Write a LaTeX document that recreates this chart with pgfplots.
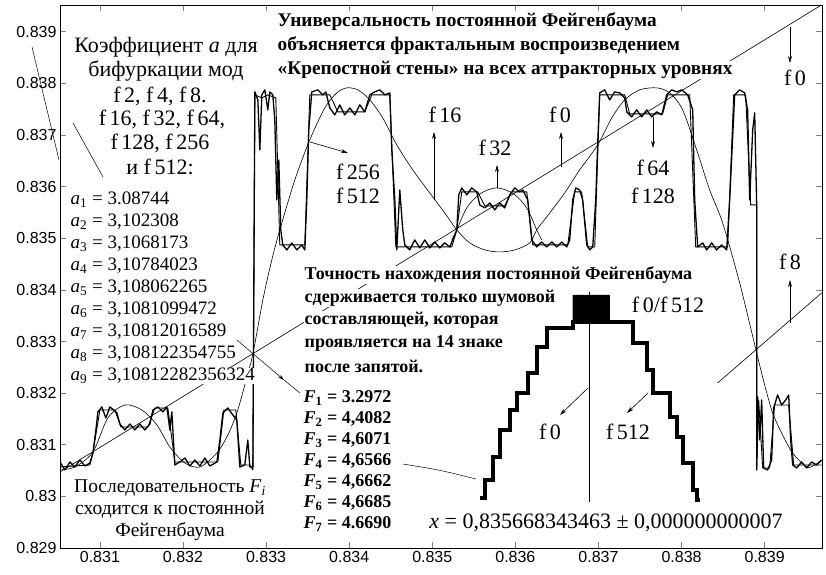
\documentclass[border=0pt]{standalone}
\usepackage{fontspec}
\setmainfont{Liberation Serif}
\setsansfont{Liberation Sans}
\usepackage{pgfplots}
\pgfplotsset{compat=1.18}
\usetikzlibrary{arrows.meta}
\newcommand\fs[2]{\fontsize{#1}{#2}\selectfont}
\begin{document}
\begin{tikzpicture}
\begin{axis}[
  at={(60pt,-548pt)}, anchor=south west,
  scale only axis, width=762pt, height=543pt,
  xmin=0.83052, xmax=0.83969, ymin=0.829, ymax=0.83952,
  xtick={0.831,0.832,0.833,0.834,0.835,0.836,0.837,0.838,0.839},
  xticklabels={0.831,0.832,0.833,0.834,0.835,0.836,0.837,0.838,0.839},
  ytick={0.829,0.830,0.831,0.832,0.833,0.834,0.835,0.836,0.837,0.838,0.839},
  yticklabels={0.829,0.83,0.831,0.832,0.833,0.834,0.835,0.836,0.837,0.838,0.839},
  scaled ticks=false,
  tick align=inside, major tick length=6pt,
  tick style={line width=0.7pt},
  ticklabel style={font=\sffamily\fs{16}{16}},
  /pgf/number format/assume math mode=true,
  axis line style={line width=0.8pt},
]
% f0 : identity line
\addplot[black, line width=0.6pt] coordinates {(0.830519,0.830473)(0.839686,0.839523)};
% large smooth iterate curve
\addplot[black, line width=0.6pt, smooth] coordinates {
(0.830519,0.830512)(0.830699,0.83057)(0.830916,0.83086)(0.831096,0.831519)(0.831301,0.831771)(0.831505,0.831674)(0.831686,0.831384)(0.831842,0.830957)(0.832023,0.830647)(0.832203,0.83057)
(0.832408,0.830841)(0.83254,0.83119)(0.832648,0.831616)(0.832744,0.832159)(0.832841,0.83276)(0.832961,0.833806)(0.833069,0.834581)(0.833165,0.835163)(0.833346,0.836132)(0.833526,0.836907)(0.833707,0.837527)(0.833851,0.837818)(0.833971,0.837915)(0.834104,0.837876)(0.834248,0.837682)(0.834404,0.837333)(0.834573,0.83681)(0.834765,0.836326)(0.83497,0.83588)(0.83515,0.835492)(0.835295,0.835163)(0.835451,0.834911)(0.835632,0.834775)(0.835812,0.834736)(0.835992,0.834775)(0.836173,0.834911)(0.836257,0.835163)(0.836414,0.835492)(0.836594,0.83588)(0.836774,0.836326)(0.836991,0.83681)(0.83716,0.837333)(0.837316,0.837682)(0.837496,0.837876)(0.837701,0.837915)(0.837857,0.837818)(0.838013,0.837488)(0.838182,0.836713)(0.838338,0.835938)(0.838494,0.835299)(0.838699,0.834136)(0.838904,0.832779)(0.839,0.832159)(0.839096,0.831616)(0.839216,0.83119)(0.839337,0.830841)(0.839505,0.83057)(0.839601,0.830609)(0.839686,0.830705)};
% f32 arc
\addplot[black, line width=0.6pt, smooth] coordinates {(0.835235,0.834969)(0.835295,0.835163)(0.835415,0.835589)(0.835571,0.83586)(0.835776,0.835977)(0.83598,0.83586)(0.836137,0.835589)(0.836257,0.835163)(0.836317,0.834969)};
% f8 chord
\addplot[black, line width=0.6pt] coordinates {(0.838434,0.832198)(0.839686,0.833942)};
% fortress wall, fine iterate
\addplot[black, line width=1.3pt, line join=round] coordinates {
(0.830519,0.830667)(0.830579,0.830512)(0.830639,0.830667)(0.830699,0.83057)(0.830759,0.830705)(0.83082,0.830589)(0.83088,0.830647)(0.830916,0.830841)(0.830952,0.831287)(0.830976,0.831636)(0.831024,0.831733)(0.831072,0.831519)(0.83112,0.831733)(0.831168,0.831674)(0.831205,0.831616)(0.831241,0.831403)(0.831301,0.831287)(0.831361,0.831403)(0.831421,0.831287)(0.831481,0.831403)(0.831541,0.831287)(0.831602,0.831403)(0.831638,0.831674)(0.831698,0.831733)(0.831758,0.831636)(0.831806,0.831733)(0.831842,0.831287)(0.831866,0.831636)(0.831902,0.830609)(0.831962,0.830667)(0.832023,0.830744)(0.832083,0.830589)(0.832143,0.830705)(0.832203,0.830589)(0.832263,0.830744)(0.832323,0.830589)(0.832408,0.830667)(0.832444,0.831093)(0.83248,0.831616)(0.83254,0.831713)(0.8326,0.831578)(0.832648,0.831481)(0.832684,0.83057)(0.832744,0.830609)(0.83278,0.831093)(0.832805,0.83057)(0.832841,0.83057)(0.832865,0.837837)
(0.832901,0.837682)(0.832925,0.836713)(0.832949,0.837779)(0.832985,0.837876)(0.833021,0.837488)(0.833045,0.837837)(0.833081,0.837779)(0.833105,0.837295)(0.833129,0.835744)(0.833153,0.836519)(0.833177,0.835163)(0.833201,0.834872)(0.83325,0.834775)(0.83331,0.834911)(0.83337,0.834775)(0.83343,0.834872)(0.833466,0.834775)(0.83349,0.835744)(0.833514,0.837101)(0.83355,0.837837)(0.833623,0.837876)(0.833683,0.837779)(0.833719,0.837837)(0.833767,0.837527)(0.833827,0.837391)(0.833887,0.837585)(0.833947,0.837391)(0.834008,0.837527)(0.834068,0.837391)(0.834128,0.837585)(0.834188,0.83745)(0.834248,0.837779)(0.834308,0.837837)(0.834368,0.837876)(0.834429,0.837779)(0.834489,0.837818)(0.834513,0.836713)(0.834549,0.835744)(0.834573,0.834775)(0.834609,0.835938)(0.834645,0.835163)(0.834669,0.834872)(0.834729,0.834775)(0.834789,0.834969)(0.83485,0.834814)(0.83491,0.834969)(0.83497,0.834814)(0.83503,0.83493)(0.83509,0.834814)(0.83515,0.834911)(0.835211,0.834833)(0.835271,0.835066)(0.835295,0.835163)(0.835319,0.835841)(0.835355,0.835977)(0.835415,0.835841)(0.835475,0.835977)(0.835535,0.835899)(0.835571,0.835647)(0.835632,0.835589)(0.835692,0.835686)(0.835752,0.83555)(0.835812,0.835686)(0.835872,0.835589)(0.835932,0.835841)(0.835992,0.835977)(0.836053,0.835899)(0.836089,0.835938)(0.836149,0.835744)(0.836197,0.834969)(0.836257,0.834833)(0.836317,0.83493)(0.836377,0.834833)(0.836438,0.83493)(0.836498,0.834833)(0.836558,0.83493)(0.836618,0.834833)(0.836654,0.834969)(0.83669,0.835744)(0.836726,0.835977)(0.836774,0.835938)(0.83681,0.835744)(0.836859,0.834872)(0.836895,0.834775)(0.836931,0.834833)(0.836967,0.835744)(0.836991,0.836849)(0.837015,0.837818)(0.837075,0.837876)(0.837135,0.837682)(0.837195,0.837837)(0.837256,0.837818)(0.837316,0.837721)(0.83734,0.83745)(0.8374,0.837353)(0.83746,0.837488)(0.83752,0.837353)(0.83758,0.837488)(0.837641,0.837353)(0.837701,0.83745)(0.837761,0.837391)(0.837821,0.837779)(0.837881,0.837876)(0.837941,0.837837)(0.838001,0.837876)(0.838074,0.837779)(0.838134,0.837488)(0.838158,0.835744)(0.838194,0.834833)(0.838254,0.834911)(0.838302,0.834775)(0.838362,0.834911)(0.838422,0.834775)(0.838482,0.834872)(0.838543,0.834775)(0.838579,0.835744)(0.838639,0.837779)(0.838699,0.837876)(0.838759,0.837818)(0.838795,0.837488)(0.83882,0.835744)(0.838856,0.837101)(0.83888,0.83743)(0.838904,0.835647)(0.838904,0.830512)
(0.838916,0.831926)(0.83894,0.831093)(0.838964,0.831868)(0.838988,0.83055)(0.839036,0.830512)(0.839084,0.830705)(0.839108,0.831713)(0.839156,0.831965)(0.839204,0.831771)(0.839253,0.831868)(0.839289,0.831965)(0.839313,0.831093)(0.839337,0.830609)(0.839385,0.83055)(0.839445,0.830667)(0.839505,0.83055)(0.839565,0.830667)(0.839625,0.830609)(0.839686,0.830705)};
% fortress wall, coarse iterate
\addplot[black, line width=0.9pt, line join=round] coordinates {
(0.830519,0.83057)(0.83088,0.830609)(0.830916,0.830841)(0.831,0.831674)(0.83118,0.831674)(0.831253,0.831345)(0.831578,0.831345)(0.831662,0.831713)(0.831818,0.831713)(0.831902,0.830667)(0.83242,0.830667)(0.832492,0.831674)(0.832636,0.831674)(0.832696,0.830609)(0.832805,0.830609)(0.832841,0.830512)
(0.832865,0.837779)(0.832949,0.837721)(0.833021,0.837779)(0.833117,0.837721)(0.833165,0.834872)(0.833466,0.834872)(0.833526,0.837779)(0.833767,0.837779)(0.833863,0.83745)(0.834188,0.83745)(0.834272,0.837779)(0.834489,0.837779)(0.834561,0.834833)(0.835235,0.834833)(0.835295,0.835163)(0.835355,0.835899)(0.835547,0.835899)(0.835632,0.835628)(0.835872,0.835628)(0.835956,0.835899)(0.836137,0.835899)(0.836209,0.834872)(0.83663,0.834872)(0.836714,0.835899)(0.836798,0.835899)(0.836871,0.834833)(0.836955,0.834833)(0.837015,0.837779)(0.837316,0.837779)(0.837376,0.837411)(0.837773,0.837411)(0.837833,0.837779)(0.838098,0.837779)(0.83817,0.834833)(0.838555,0.834833)(0.838627,0.837779)(0.838771,0.837779)(0.838832,0.835647)(0.838904,0.835647)(0.838904,0.830512)
(0.838928,0.831868)(0.838976,0.83055)(0.83906,0.83055)(0.83912,0.831771)(0.839289,0.831771)(0.839349,0.830609)(0.839686,0.830609)};
% inset f0/f512 staircase
\addplot[black, line width=4pt, const plot] coordinates {
(0.835571,0.829969)(0.835632,0.830318)(0.835728,0.830764)(0.835812,0.831287)(0.835932,0.831674)(0.836017,0.832004)(0.836149,0.832392)(0.836257,0.832895)(0.836377,0.833264)(0.83669,0.83338)(0.837135,0.83338)(0.837412,0.832973)(0.83758,0.83245)(0.837653,0.832004)(0.837857,0.831539)(0.837941,0.831151)(0.838013,0.830647)(0.838134,0.830124)(0.838182,0.82993)(0.838218,0.82993)};
\addplot[black, fill=black] coordinates {(0.83669,0.83338)(0.83669,0.833903)(0.837135,0.833903)(0.837135,0.83338)(0.83669,0.83338)};
\addplot[black, line width=0.6pt] coordinates {(0.836895,0.833961)(0.836895,0.829891)};
\end{axis}
\begin{scope}[x=1pt,y=-1pt]
\tikzset{lab/.style={fill=white, inner sep=0.5pt}}
% leader lines
\draw[line width=0.5pt] (32,47) -- (59,160);
\draw[line width=0.5pt] (73,123) -- (103,177);
\draw[line width=0.5pt, -{Stealth[length=6pt,width=3.5pt]}] (237,340) -- (284,380);
\draw[line width=0.5pt] (284,380) -- (300,393);
\draw[line width=0.5pt] (403,464) .. controls (440,470) .. (476,479);
% arrows to labels
\begin{scope}[line width=0.6pt, -{Stealth[length=7pt,width=4pt]}]
\draw (434,200) -- (434,132);
\draw (561,167) -- (561,132);
\draw (497,188) -- (497,165);
\draw (653,117) -- (653,148);
\draw (310,142) -- (348,153);
\draw (790,27) -- (790,63);
\draw (790,323) -- (790,280);
\draw (588,388) -- (560,415);
\draw (648,393) -- (627,413);
\end{scope}
% top text
\begin{scope}[every node/.style={lab, anchor=west, font=\bfseries\fs{19.3}{24}}]
\node at (277,22) {Универсальность постоянной Фейгенбаума};
\node at (277,46) {объясняется фрактальным воспроизведением};
\node at (277,70) {«Крепостной стены» на всех аттракторных уровнях};
\end{scope}
% left block
\begin{scope}[every node/.style={lab, font=\fs{22}{24}}]
\node at (166,47) {Коэффициент \textit{a} для};
\node at (166,71) {бифуркации мод};
\node at (160,96) {f\,2, f\,4, f\,8.};
\node at (162,119) {f\,16, f\,32, f\,64,};
\node at (160,143) {f\,128, f\,256};
\node at (160,167) {и f\,512:};
\end{scope}
\begin{scope}[every node/.style={lab, anchor=west, font=\fs{19}{22}}]
\node at (70,200) {\textit{a}\textsubscript{1} = 3.08744};
\node at (70,222) {\textit{a}\textsubscript{2} = 3,102308};
\node at (70,244) {\textit{a}\textsubscript{3} = 3,1068173};
\node at (70,266) {\textit{a}\textsubscript{4} = 3,10784023};
\node at (70,288) {\textit{a}\textsubscript{5} = 3,108062265};
\node at (70,310) {\textit{a}\textsubscript{6} = 3,1081099472};
\node at (70,332) {\textit{a}\textsubscript{7} = 3,10812016589};
\node at (70,354) {\textit{a}\textsubscript{8} = 3,108122354755};
\node at (70,376) {\textit{a}\textsubscript{9} = 3,10812282356324};
\end{scope}
\begin{scope}[every node/.style={lab, font=\fs{19.5}{22}}]
\node at (170,488) {Последовательность \textit{F}\textsubscript{\textit{i}}};
\node at (170,510) {сходится к постоянной};
\node at (170,532) {Фейгенбаума};
\end{scope}
\begin{scope}[every node/.style={lab, anchor=west, font=\bfseries\fs{18}{21}}]
\node at (303,398) {\textit{F}\textsubscript{1} = 3.2972};
\node at (303,419) {\textit{F}\textsubscript{2} = 4,4082};
\node at (303,440) {\textit{F}\textsubscript{3} = 4,6071};
\node at (303,461) {\textit{F}\textsubscript{4} = 4,6566};
\node at (303,482) {\textit{F}\textsubscript{5} = 4,6662};
\node at (303,503) {\textit{F}\textsubscript{6} = 4,6685};
\node at (303,524) {\textit{F}\textsubscript{7} = 4.6690};
\node at (304,275) {Точность нахождения постоянной Фейгенбаума};
\node at (304,298) {сдерживается только шумовой};
\node at (304,320) {составляющей, которая};
\node at (304,343) {проявляется на 14 знаке};
\node at (304,366) {после запятой.};
\end{scope}
\begin{scope}[every node/.style={font=\fs{22}{24}, inner sep=0.5pt}]
\node at (445,115) {f\,16};
\node at (560,115) {f\,0};
\node at (495,148) {f\,32};
\node at (358,172) {f\,256};
\node at (358,196) {f\,512};
\node at (653,168) {f\,64};
\node at (653,196) {f\,128};
\node at (795,78) {f\,0};
\node at (790,262) {f\,8};
\node at (668,305) {f\,0/f\,512};
\node at (550,432) {f\,0};
\node at (628,432) {f\,512};
\node[lab] at (606,523) {\textit{x} = 0,835668343463 ± 0,000000000007};
\end{scope}
\pgfresetboundingbox
\path[use as bounding box] (0,0) rectangle (826,574);
\end{scope}
\end{tikzpicture}
\end{document}
